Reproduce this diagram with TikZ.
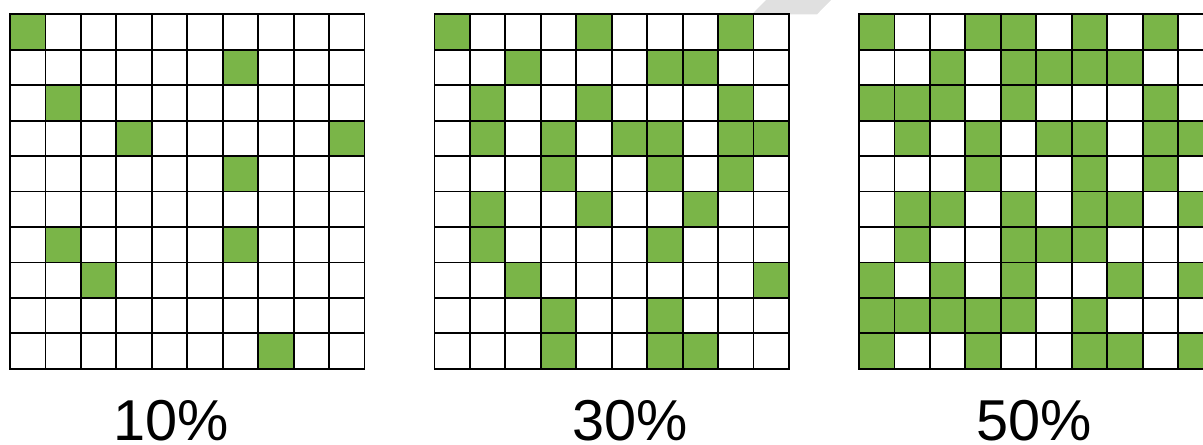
\documentclass[tikz,border=0pt]{standalone}
\usepackage{fontspec}
\setmainfont{Liberation Sans}
\usepackage{xcolor}
\usetikzlibrary{positioning}
\definecolor{cellgreen}{RGB}{122,181,72}
\definecolor{foldgray}{RGB}{224,224,224}

\begin{document}
\begin{tikzpicture}[
    x=0.025cm, y=-0.025cm,
    cell/.style={fill=cellgreen},
    gridline/.style={draw=black, line width=1.3pt, line cap=rect},
    pct/.style={font=\fontsize{41}{45}\selectfont, anchor=base, inner sep=0pt}
]
\useasboundingbox (0,0) rectangle (1203,445);
\clip (0,0) rectangle (1203,445);

% grauer Streifen oben
\fill[foldgray] (752,14.3) -- (817,14.3) -- (831,0) -- (766,0) -- cycle;

% Raster 10%
\begin{scope}[shift={(10,14.3)}]
\foreach \r/\c in {0/0,1/6,2/1,3/3,3/9,4/6,6/1,6/6,7/2,9/7}
    \fill[cell] (\c*35.45,\r*35.45) rectangle ++(35.45,35.45);
\foreach \i in {0,...,10} {
    \draw[gridline] (\i*35.45,0) -- (\i*35.45,354.5);
    \draw[gridline] (0,\i*35.45) -- (354.5,\i*35.45);
}
\end{scope}

% Raster 30%
\begin{scope}[shift={(434.5,14.3)}]
\foreach \r/\c in {0/0,0/4,0/8,1/2,1/6,1/7,2/1,2/4,2/8,
                   3/1,3/3,3/5,3/6,3/8,3/9,4/3,4/6,4/8,
                   5/1,5/4,5/7,6/1,6/6,7/2,7/9,8/3,8/6,9/3,9/6,9/7}
    \fill[cell] (\c*35.45,\r*35.45) rectangle ++(35.45,35.45);
\foreach \i in {0,...,10} {
    \draw[gridline] (\i*35.45,0) -- (\i*35.45,354.5);
    \draw[gridline] (0,\i*35.45) -- (354.5,\i*35.45);
}
\end{scope}

% Raster 50%
\begin{scope}[shift={(859,14.3)}]
\foreach \r/\c in {0/0,0/3,0/4,0/6,0/8,1/2,1/4,1/5,1/6,1/7,
                   2/0,2/1,2/2,2/4,2/8,3/1,3/3,3/5,3/6,3/8,3/9,
                   4/3,4/6,4/8,5/1,5/2,5/4,5/6,5/7,5/9,
                   6/1,6/4,6/5,6/6,7/0,7/2,7/4,7/7,7/9,
                   8/0,8/1,8/2,8/3,8/4,8/6,9/0,9/3,9/6,9/7,9/9}
    \fill[cell] (\c*35.45,\r*35.45) rectangle ++(35.45,35.45);
\foreach \i in {0,...,10} {
    \draw[gridline] (\i*35.45,0) -- (\i*35.45,354.5);
    \draw[gridline] (0,\i*35.45) -- (354.5,\i*35.45);
}
\end{scope}

% Beschriftungen
\node[pct] (lab10) at (171,440) {10\%};
\node[pct] (lab30) at (630,440) {30\%};
\node[pct] (lab50) at (1034,440) {50\%};

\end{tikzpicture}
\end{document}
